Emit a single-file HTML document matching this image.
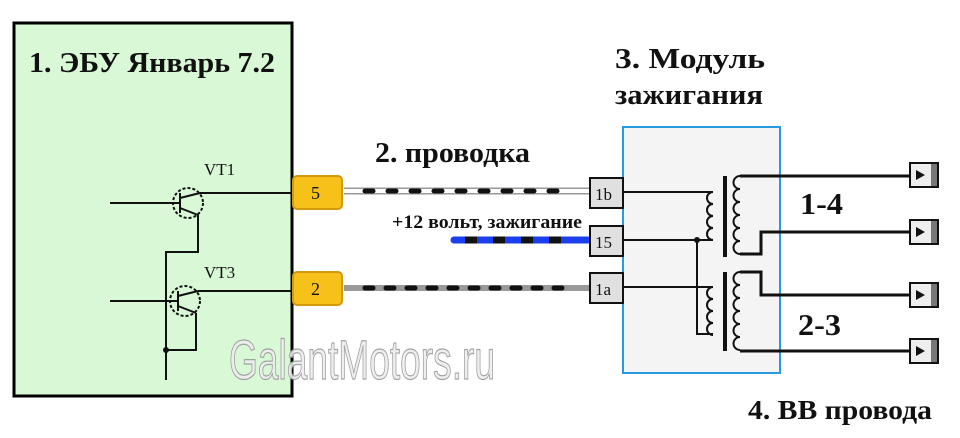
<!DOCTYPE html>
<html><head><meta charset="utf-8"><style>
html,body{margin:0;padding:0;background:#fff;}
svg{display:block;}
text{font-family:"Liberation Serif","DejaVu Serif",serif;}
</style></head><body>
<svg width="960" height="438" viewBox="0 0 960 438" xmlns="http://www.w3.org/2000/svg">
<!-- ECU box -->
<rect x="14" y="23" width="278" height="373" fill="#d8f8d6" stroke="#000" stroke-width="3"/>
<text x="29" y="72" font-size="29" font-weight="bold" fill="#111" textLength="246" lengthAdjust="spacingAndGlyphs">1. ЭБУ Январь 7.2</text>
<g stroke="#111" stroke-width="2" fill="none">
  <circle cx="188" cy="203" r="15" stroke-dasharray="3 2"/>
  <line x1="110" y1="203" x2="180" y2="203"/>
  <line x1="180" y1="193" x2="180" y2="213"/>
  <line x1="180" y1="198" x2="200" y2="193"/>
  <line x1="200" y1="193" x2="292" y2="193"/>
  <line x1="180" y1="208" x2="198" y2="215"/>
  <polyline points="198,215 198,252 166,252 166,380"/>
  <circle cx="185" cy="301" r="15" stroke-dasharray="3 2"/>
  <line x1="110" y1="301" x2="178" y2="301"/>
  <line x1="178" y1="291" x2="178" y2="311"/>
  <line x1="178" y1="296" x2="198" y2="291"/>
  <line x1="198" y1="291" x2="292" y2="291"/>
  <line x1="178" y1="306" x2="196" y2="313"/>
  <polyline points="196,313 196,350 166,350"/>
</g>
<circle cx="166" cy="350" r="3" fill="#111"/>
<text x="204" y="175" font-size="17" fill="#111">VT1</text>
<text x="204" y="278" font-size="17" fill="#111">VT3</text>
<!-- connectors -->
<rect x="293" y="176" width="49" height="33" rx="4" fill="#f6c21a" stroke="#d39a10" stroke-width="2"/>
<text x="311" y="199" font-size="18" fill="#111">5</text>
<rect x="293" y="272" width="49" height="33" rx="4" fill="#f6c21a" stroke="#d39a10" stroke-width="2"/>
<text x="311" y="295" font-size="18" fill="#111">2</text>
<!-- wires -->
<line x1="344" y1="191" x2="590" y2="191" stroke="#999" stroke-width="7"/>
<line x1="344" y1="191" x2="590" y2="191" stroke="#fff" stroke-width="4"/>
<line x1="365" y1="191" x2="570" y2="191" stroke="#111" stroke-width="5" stroke-dasharray="8 15" stroke-linecap="round"/>
<line x1="344" y1="288" x2="590" y2="288" stroke="#999" stroke-width="6"/>
<line x1="365" y1="288" x2="570" y2="288" stroke="#111" stroke-width="5" stroke-dasharray="8 13" stroke-linecap="round"/>
<line x1="454" y1="240" x2="588" y2="240" stroke="#1a3ff0" stroke-width="7" stroke-linecap="round"/>
<line x1="465" y1="240" x2="565" y2="240" stroke="#111" stroke-width="7" stroke-dasharray="12 16"/>
<text x="375" y="162" font-size="28" font-weight="bold" fill="#111" textLength="155" lengthAdjust="spacingAndGlyphs">2. проводка</text>
<text x="392" y="228" font-size="19" font-weight="bold" fill="#111" textLength="190" lengthAdjust="spacingAndGlyphs">+12 вольт, зажигание</text>
<!-- module -->
<rect x="623" y="127" width="157" height="246" fill="#f4f4f4" stroke="#2a9ae0" stroke-width="2"/>
<text x="615" y="68" font-size="28" font-weight="bold" fill="#111" textLength="150" lengthAdjust="spacingAndGlyphs">3. Модуль</text>
<text x="615" y="104" font-size="28" font-weight="bold" fill="#111" textLength="148" lengthAdjust="spacingAndGlyphs">зажигания</text>
<g fill="#e0e0e0" stroke="#111" stroke-width="2">
<rect x="590" y="178" width="33" height="30"/>
<rect x="590" y="226" width="33" height="30"/>
<rect x="590" y="273" width="33" height="30"/>
</g>
<text x="595" y="200" font-size="17" fill="#111">1b</text>
<text x="595" y="248" font-size="17" fill="#111">15</text>
<text x="595" y="295" font-size="17" fill="#111">1a</text>
<g stroke="#111" stroke-width="2" fill="none">
  <polyline points="623,192 713,192"/>
  <polyline points="623,240 713,240"/>
  <polyline points="623,287 713,287"/>
  <polyline points="697,240 697,334 713,334"/>
  <path d="M713,192 a6,6 0 0 0 0,12 a6,6 0 0 0 0,12 a6,6 0 0 0 0,12 a6,6 0 0 0 0,12"/>
  <path d="M713,287 a6,6 0 0 0 0,12 a6,6 0 0 0 0,12 a6,6 0 0 0 0,12 a6,6 0 0 0 0,12"/>
  <path d="M740,176 a6,6 0 0 0 0,13 a6,6 0 0 0 0,13 a6,6 0 0 0 0,13 a6,6 0 0 0 0,13 a6,6 0 0 0 0,13 a6,6 0 0 0 0,13 l2,0"/>
  <path d="M740,272 a6,6 0 0 0 0,13 a6,6 0 0 0 0,13 a6,6 0 0 0 0,13 a6,6 0 0 0 0,13 a6,6 0 0 0 0,13 a6,6 0 0 0 0,13"/>
</g>
<circle cx="697" cy="240" r="3" fill="#111"/>
<g stroke="#111" stroke-width="4">
  <line x1="725" y1="176" x2="725" y2="257"/>
  <line x1="725" y1="272" x2="725" y2="351"/>
</g>
<g stroke="#111" stroke-width="3" fill="none">
  <polyline points="740,176 910,176"/>
  <polyline points="740,254 761,254 761,232 910,232"/>
  <polyline points="740,272 761,272 761,295 910,295"/>
  <polyline points="740,351 910,351"/>
</g>
<g>
  <g transform="translate(910,163)"><rect x="0" y="0" width="28" height="24" fill="#eee" stroke="#111" stroke-width="2"/><rect x="21" y="1" width="6" height="22" fill="#777"/><path d="M6,7 l9,5 l-9,5z" fill="#111"/></g>
  <g transform="translate(910,220)"><rect x="0" y="0" width="28" height="24" fill="#eee" stroke="#111" stroke-width="2"/><rect x="21" y="1" width="6" height="22" fill="#777"/><path d="M6,7 l9,5 l-9,5z" fill="#111"/></g>
  <g transform="translate(910,283)"><rect x="0" y="0" width="28" height="24" fill="#eee" stroke="#111" stroke-width="2"/><rect x="21" y="1" width="6" height="22" fill="#777"/><path d="M6,7 l9,5 l-9,5z" fill="#111"/></g>
  <g transform="translate(910,339)"><rect x="0" y="0" width="28" height="24" fill="#eee" stroke="#111" stroke-width="2"/><rect x="21" y="1" width="6" height="22" fill="#777"/><path d="M6,7 l9,5 l-9,5z" fill="#111"/></g>
</g>
<text x="800" y="214" font-size="31" font-weight="bold" fill="#111" textLength="43" lengthAdjust="spacingAndGlyphs">1-4</text>
<text x="798" y="335" font-size="31" font-weight="bold" fill="#111" textLength="43" lengthAdjust="spacingAndGlyphs">2-3</text>
<text x="748" y="419" font-size="27" font-weight="bold" fill="#111" textLength="184" lengthAdjust="spacingAndGlyphs">4. ВВ провода</text>
<!-- watermark -->
<text x="229" y="379" font-size="56" textLength="266" lengthAdjust="spacingAndGlyphs" fill="#eeeeee" stroke="#9a9a9a" stroke-width="1.2" style="font-family:'Liberation Sans',sans-serif" opacity="0.9">GalantMotors.ru</text>
</svg>
</body></html>
